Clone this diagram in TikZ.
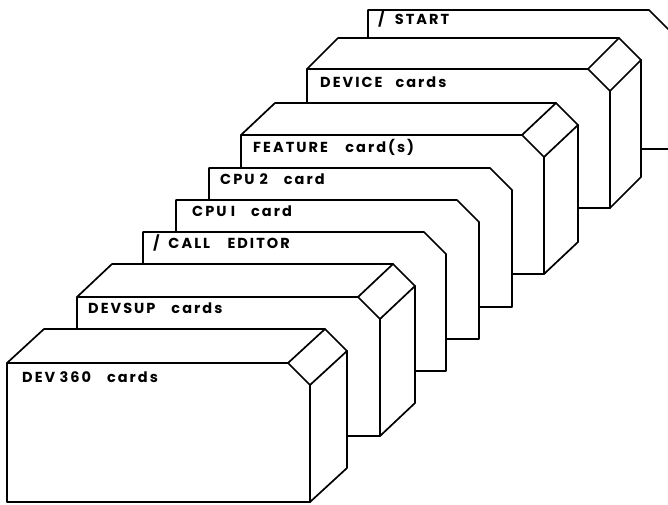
\documentclass[tikz,border=0pt]{standalone}
\usepackage{fontspec}
\newfontfamily\lbl[LetterSpace=14]{Poppins}
\tikzset{
  edge/.style={line width=1.7pt, line join=round, line cap=round},
  face/.style={edge, fill=white},
  lab/.style={anchor=base west, inner sep=0pt, font=\lbl\bfseries\fontsize{14.5}{16}\selectfont},
}
\def\W{303}\def\H{139}\def\C{22}
\newcommand\flatcard[2]{%
  \draw[face] (#1,#2) -- ({#1+\W-\C},#2) -- ({#1+\W},{#2+\C}) -- ({#1+\W},{#2+\H}) -- (#1,{#2+\H}) -- cycle;}
\newcommand\boxdeck[4]{%
  \draw[face] (#1,#2) -- ({#1+#3},{#2+#4}) -- ({#1+\W-\C+#3},{#2+#4}) -- ({#1+\W+#3},{#2+\C+#4})
     -- ({#1+\W+#3},{#2+\H+#4}) -- ({#1+\W},{#2+\H}) -- (#1,{#2+\H}) -- cycle;
  \draw[edge] (#1,#2) -- ({#1+\W-\C},#2) -- ({#1+\W},{#2+\C}) -- ({#1+\W},{#2+\H});
  \draw[edge] ({#1+\W-\C},#2) -- ({#1+\W-\C+#3},{#2+#4});
  \draw[edge] ({#1+\W},{#2+\C}) -- ({#1+\W+#3},{#2+\C+#4});}
\begin{document}
\begin{tikzpicture}[x=1pt,y=-1pt]
\useasboundingbox (0,0) rectangle (668,505);
\clip (0,0) rectangle (668,505);
% / START card
\flatcard{368}{10}
\node[lab] (tstart) at (378,25) {/\hspace{0.7em}START};
% DEVICE deck
\boxdeck{307}{69}{31}{-31}
\node[lab] (tdevice) at (320,88) {DEVICE\hspace{0.9em}cards};
% FEATURE deck
\boxdeck{241}{135}{34}{-32}
\node[lab] (tfeature) at (253,153) {FEATURE\hspace{1.2em}card(s)};
% CPU 2 card
\flatcard{209}{168}
\node[lab] (tcpu2) at (220,184) {CPU\hspace{0.35em}2\hspace{1.1em}card};
% CPU 1 card
\flatcard{176}{200}
\node[lab] (tcpu1) at (192,216) {CPU\hspace{0.3em}I\hspace{1.1em}card};
% / CALL EDITOR card
\flatcard{143}{232}
\node[lab] (tcall) at (153,248) {/\hspace{0.6em}CALL\hspace{1.2em}EDITOR};
% DEVSUP deck
\boxdeck{77}{297}{35}{-33}
\node[lab] (tdevsup) at (88,313) {DEVSUP\hspace{1.1em}cards};
% DEV 360 deck
\boxdeck{7}{363}{37}{-34}
\node[lab] (tdev360) at (22,382) {DEV\hspace{0.3em}360\hspace{1.1em}cards};
\end{tikzpicture}
\end{document}
